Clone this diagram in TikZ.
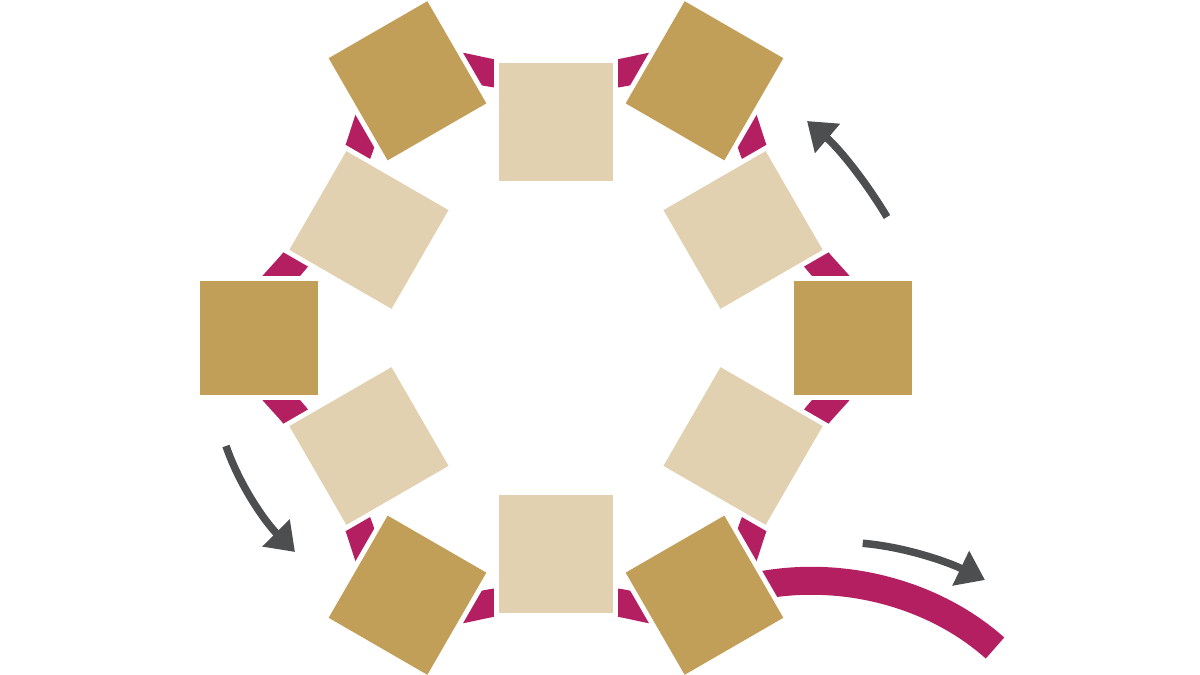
\documentclass[tikz,border=0pt]{standalone}
\usetikzlibrary{arrows.meta,calc}
\definecolor{gold}{RGB}{194,159,89}
\definecolor{beige}{RGB}{226,209,177}
\definecolor{magen}{RGB}{180,31,98}
\definecolor{agray}{RGB}{77,78,80}
\begin{document}
\begin{tikzpicture}[x=0.02cm,y=-0.02cm,
  sq/.style={rectangle, inner sep=0pt, minimum width=2.36cm, minimum height=2.28cm,
             preaction={draw=white, line width=0.2cm}},
  darksq/.style={sq, fill=gold},
  lightsq/.style={sq, fill=beige},
  strand/.style={draw=magen, line width=0.56cm, line join=round},
  turn/.style={draw=agray, line width=0.15cm, -{Triangle[length=0.54cm,width=0.74cm]}}]
\useasboundingbox[fill=white] (0,0) rectangle (1200,675);
\coordinate (c) at (556,338);
\foreach \i in {0,...,5}{
  \coordinate (v\i) at ($(c)+(\i*60:331)$);
  \coordinate (w\i) at ($(c)+(\i*60+30:251)$);
}
% the ring strand
\draw[strand, rounded corners=1.5cm] (v0)--(w0)--(v1)--(w1)--(v2)--(w2)--(v3)--(w3)--(v4)--(w4)--(v5)--(w5)--cycle;
% exit strand
\coordinate (s1) at (740,590);
\coordinate (s2) at (995,648);
\draw[strand, line cap=butt] ($(c)+(60:297)$) -- (s1) .. controls (830,566) and (930,590) .. (s2);
% squares
\foreach \i in {0,...,5}{
  \node[lightsq, rotate=-\i*60-30] (l\i) at ($(c)+(\i*60+30:216)$) {};
  \node[darksq, rotate=-\i*60] (d\i) at ($(c)+(\i*60:297)$) {};
}
% arrows
\coordinate (a1s) at (887,217); \coordinate (a1e) at (807,121);
\coordinate (a2s) at (226,446); \coordinate (a2e) at (295,552);
\coordinate (a3s) at (862.7,543.3); \coordinate (a3e) at (985,580);
\draw[turn] (a1s) .. controls (865.4,181) and (839,148.3) .. (a1e);
\draw[turn] (a2s) .. controls (239.6,485.7) and (265.4,522.2) .. (a2e);
\draw[turn] (a3s) .. controls (904.5,546.8) and (947.2,561.7) .. (a3e);
\end{tikzpicture}
\end{document}
